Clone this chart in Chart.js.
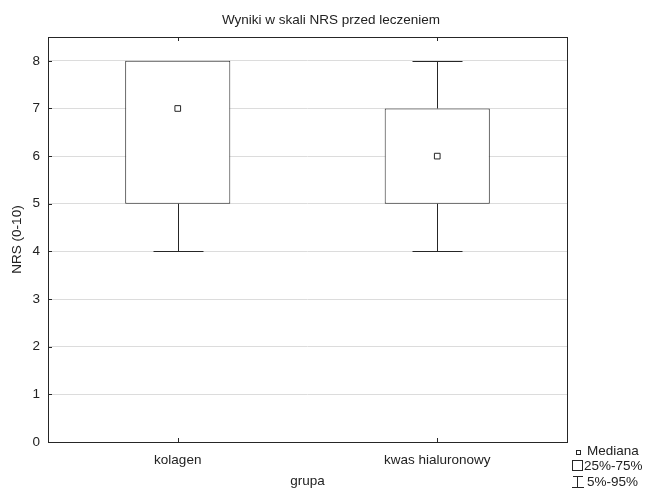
<!DOCTYPE html>
<html>
<head>
<meta charset="utf-8">
<script src="https://cdn.jsdelivr.net/npm/chart.js@4/dist/chart.umd.min.js"></script>
<style>
html,body{margin:0;padding:0;background:#fff;}
#wrap{width:646px;height:489px;position:relative;}
</style>
</head>
<body>
<div id="wrap"><canvas id="c" width="646" height="489"></canvas></div>
<script>
// ---- data ----
const categories = ['kolagen', 'kwas hialuronowy'];
const p05 = [4, 4];
const q1 = [5, 5];
const median = [7, 6];
const q3 = [8, 7];
const p95 = [8, 8];
const yTicks = [0, 1, 2, 3, 4, 5, 6, 7, 8];
const chartTitle = 'Wyniki w skali NRS przed leczeniem';
const xTitle = 'grupa';
const yTitle = 'NRS (0-10)';
const legendLabels = ['Mediana', '25%-75%', '5%-95%'];

const FONT = 'Liberation Sans, Arial, sans-serif';
const FS = 13.5;
const DARK = '#262626';

const boxPlugin = {
  id: 'boxextras',
  beforeDatasetsDraw(chart) {
    const ctx = chart.ctx, x = chart.scales.x, y = chart.scales.y;
    ctx.save();
    ctx.strokeStyle = DARK;
    ctx.lineWidth = 1;
    categories.forEach((c, i) => {
      const cx = Math.round(x.getPixelForValue(i)) + 0.5;
      const capHalf = 25;
      const yl = Math.round(y.getPixelForValue(p05[i])) + 0.5;
      const yq1 = y.getPixelForValue(q1[i]);
      const yh = Math.round(y.getPixelForValue(p95[i])) + 0.5;
      const yq3 = y.getPixelForValue(q3[i]);
      ctx.beginPath();
      ctx.moveTo(cx, yl); ctx.lineTo(cx, yq1);
      ctx.moveTo(cx - capHalf, yl); ctx.lineTo(cx + capHalf, yl);
      if (p95[i] > q3[i]) {
        ctx.moveTo(cx, yh); ctx.lineTo(cx, yq3);
        ctx.moveTo(cx - capHalf, yh); ctx.lineTo(cx + capHalf, yh);
      }
      ctx.stroke();
    });
    ctx.restore();
  },
  afterDraw(chart) {
    const ctx = chart.ctx, a = chart.chartArea, x = chart.scales.x, y = chart.scales.y;
    ctx.save();
    ctx.strokeStyle = DARK;
    ctx.lineWidth = 1;
    // frame
    ctx.strokeRect(Math.round(a.left) + 0.5, Math.round(a.top) + 0.5,
      Math.round(a.right - a.left), Math.round(a.bottom - a.top));
    // ticks inside
    ctx.beginPath();
    categories.forEach((c, i) => {
      const px = Math.round(x.getPixelForValue(i)) + 0.5;
      ctx.moveTo(px, a.bottom); ctx.lineTo(px, a.bottom - 4);
      ctx.moveTo(px, a.top); ctx.lineTo(px, a.top + 4);
    });
    yTicks.forEach(v => {
      const py = Math.round(y.getPixelForValue(v)) + 0.5;
      ctx.moveTo(a.left, py); ctx.lineTo(a.left + 4, py);
    });
    ctx.stroke();
    // title
    ctx.fillStyle = '#222';
    ctx.font = FS + 'px ' + FONT;
    ctx.textBaseline = 'middle';
    ctx.textAlign = 'center';
    ctx.fillText(chartTitle, 331, 20);
    // legend
    ctx.textAlign = 'left';
    ctx.fillStyle = '#fff';
    ctx.fillRect(576.5, 450.5, 4, 4);
    ctx.strokeRect(576.5, 450.5, 4, 4);
    ctx.fillStyle = '#222';
    ctx.fillText(legendLabels[0], 587, 451);
    ctx.strokeRect(572.5, 460.5, 10, 10);
    ctx.fillText(legendLabels[1], 584, 466);
    ctx.beginPath();
    ctx.moveTo(573, 476.5); ctx.lineTo(583, 476.5);
    ctx.moveTo(577.5, 476.5); ctx.lineTo(577.5, 487.5);
    ctx.moveTo(572, 487.5); ctx.lineTo(584, 487.5);
    ctx.stroke();
    ctx.fillText(legendLabels[2], 587, 482);
    ctx.restore();
  }
};

new Chart(document.getElementById('c'), {
  type: 'bar',
  data: {
    labels: categories,
    datasets: [
      {
        type: 'scatter',
        label: 'Mediana',
        data: median.map((m, i) => ({x: i, y: m})),
        pointStyle: 'rect',
        pointRadius: 4,
        pointBorderWidth: 1,
        pointBackgroundColor: '#fff',
        pointBorderColor: DARK,
        showLine: false,
        order: 0
      },
      {
        label: '25%-75%',
        data: q1.map((v, i) => [v, q3[i]]),
        backgroundColor: '#fff',
        borderColor: DARK,
        borderWidth: 1,
        borderSkipped: false,
        barPercentage: 0.405,
        categoryPercentage: 1,
        order: 1
      }
    ]
  },
  options: {
    responsive: false,
    animation: false,
    layout: { padding: { left: 7, right: 79, top: 37, bottom: 0 } },
    plugins: {
      legend: { display: false },
      tooltip: { enabled: false },
      title: { display: false }
    },
    scales: {
      x: {
        type: 'category',
        offset: true,
        grid: { display: false, drawTicks: false },
        border: { display: false },
        ticks: { color: '#222', font: { family: FONT, size: FS }, padding: 10 },
        title: { display: true, text: xTitle, color: '#222', font: { family: FONT, size: FS }, padding: { top: 4, bottom: 0 } },
        afterFit: s => { s.height = 47; }
      },
      y: {
        min: 0,
        max: 8.5,
        afterBuildTicks: s => { s.ticks = yTicks.map(v => ({ value: v })); },
        grid: { color: '#dcdcdc', drawTicks: false },
        border: { display: false },
        ticks: { color: '#222', font: { family: FONT, size: FS }, padding: 8 },
        title: { display: true, text: yTitle, color: '#222', font: { family: FONT, size: FS }, padding: { top: 2, bottom: 2 } },
        afterFit: s => { s.width = 41; }
      }
    }
  },
  plugins: [boxPlugin]
});
</script>
</body>
</html>
